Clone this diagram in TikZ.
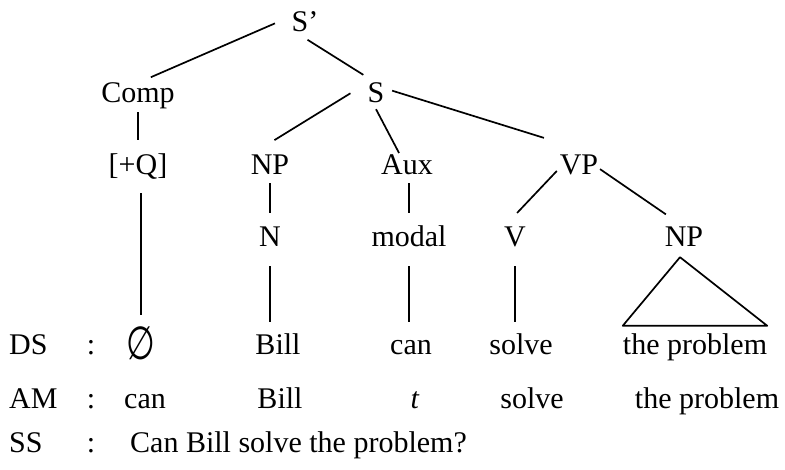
\documentclass[tikz,border=0pt]{standalone}
\usepackage{fontspec}
\setmainfont{Liberation Serif}
\newfontfamily\symfont{DejaVu Sans}
\begin{document}
\begin{tikzpicture}[
    x=1pt, y=-1pt,
    font=\fontsize{30}{36}\selectfont,
    word/.style={anchor=base, inner sep=0pt, text height=20pt, text depth=6pt},
    rowlab/.style={word, anchor=base west},
    branch/.style={line width=1.7pt}
  ]
  \useasboundingbox (0,0) rectangle (785,470);
  % tree
  \node[word] (sprime) at (305,32) {S’};
  \node[word] (comp) at (138,103) {Comp};
  \node[word] (s) at (376,103) {S};
  \node[word] (q) at (138,175) {[+Q]};
  \node[word] (np) at (270,175) {NP};
  \node[word] (aux) at (407,175) {Aux};
  \node[word] (vp) at (579,175) {VP};
  \node[word] (n) at (270,247) {N};
  \node[word] (modal) at (409,247) {modal};
  \node[word] (v) at (515,247) {V};
  \node[word] (npo) at (684,247) {NP};
  % rows
  \foreach \nm/\lab/\yy in {ds/DS/355, am/AM/409, ss/SS/452} {
    \node[rowlab] (\nm) at (9,\yy) {\lab};
    \node[word] (\nm colon) at (91,\yy) {:};
  }
  \node[word] (dsnull) at (141,355) {\raisebox{-5pt}{\scalebox{1}[1.4]{\fontsize{33}{36}\symfont ∅}}};
  \node[word] (dsbill) at (278,355) {Bill};
  \node[word] (dscan) at (411,355) {can};
  \node[word] (dssolve) at (521,355) {solve};
  \node[word] (dsobj) at (695,355) {the problem};
  \node[word] (amcan) at (145,409) {can};
  \node[word] (ambill) at (280,409) {Bill};
  \node[word] (amt) at (415,409) {\textit{t}};
  \node[word] (amsolve) at (532,409) {solve};
  \node[word] (amobj) at (707,409) {the problem};
  \node[rowlab] (sssent) at (130,452) {Can Bill solve the problem?};
  % branches
  \draw[branch, shorten <=18pt, shorten >=14pt] (sprime.147) -- (comp.north);
  \draw[branch, shorten <=3pt, shorten >=15pt] (sprime.south) -- (s.north);
  \draw[branch, shorten <=3pt, shorten >=15pt] (comp.south) -- (q.north);
  \draw[branch, shorten <=20pt, shorten >=28pt] (s.north west) -- (np.north west);
  \draw[branch, shorten <=0pt, shorten >=2pt] (s.south) -- (aux.118);
  \draw[branch, shorten <=8pt, shorten >=57pt] (s.42) -- (vp.north east);
  \draw[branch, shorten <=2pt, shorten >=14pt] (np.south) -- (n.north);
  \draw[branch, shorten <=2pt, shorten >=14pt] (modal.north |- aux.south) -- (modal.north);
  \draw[branch, shorten <=4pt, shorten >=19pt] (vp.west) -- (v.north west);
  \draw[branch, shorten <=2pt, shorten >=22pt] (vp.east) -- (npo.north);
  \draw[branch, shorten <=12pt, shorten >=20pt] (dsnull.north |- q.south) -- (dsnull.north);
  \draw[branch, shorten <=13pt, shorten >=13pt] (n.south) -- (n.south |- dsbill.north);
  \draw[branch, shorten <=13pt, shorten >=13pt] (modal.south) -- (modal.south |- dscan.north);
  \draw[branch, shorten <=13pt, shorten >=13pt] (v.south) -- (v.south |- dssolve.north);
  \draw[branch, line join=round] ([yshift=9pt]dsobj.north west) -- ([shift={(-4pt,-4pt)}]npo.south)
    -- ([yshift=9pt]dsobj.north east) -- cycle;
\end{tikzpicture}
\end{document}
